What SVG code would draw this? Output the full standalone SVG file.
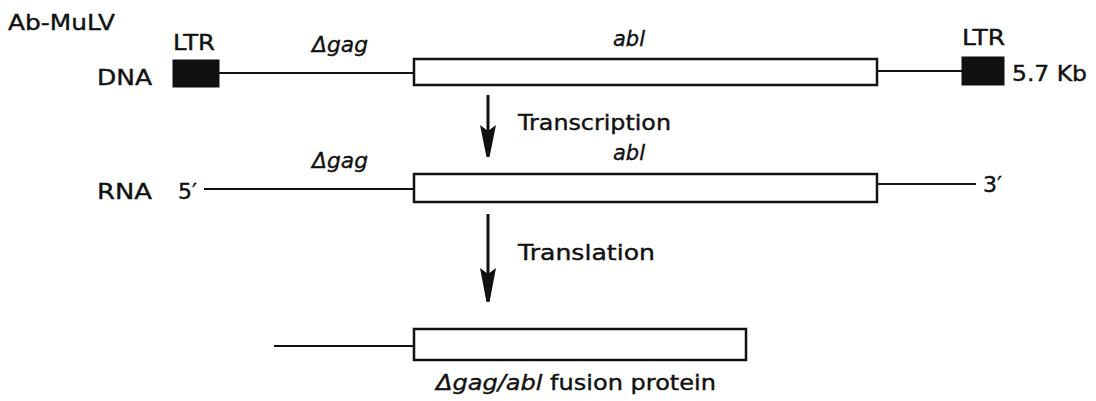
<svg xmlns="http://www.w3.org/2000/svg" width="1096" height="401" viewBox="0 0 1096 401">
<style>
text{font-family:"DejaVu Sans","Liberation Sans",Arial,sans-serif;fill:#111;font-size:22px;stroke:#111;stroke-width:0.4}
.it{font-style:italic}
.box{fill:#fff;stroke:#111;stroke-width:2.5}
.ltr{fill:#111;stroke:#111;stroke-width:1}
.ln{stroke:#111;stroke-width:2;fill:none}
.arr{stroke:#111;stroke-width:3;fill:none}
.head{fill:#111}
</style>
<rect width="1096" height="401" fill="#fff"/>
<text x="8" y="30" textLength="107" lengthAdjust="spacingAndGlyphs">Ab-MuLV</text>
<g id="dna">
<text x="97" y="85" textLength="55" lengthAdjust="spacingAndGlyphs">DNA</text>
<text x="173" y="50" textLength="42" lengthAdjust="spacingAndGlyphs">LTR</text>
<rect class="ltr" x="173" y="60" width="46" height="27"/>
<line class="ln" x1="219" y1="73" x2="413" y2="73"/>
<text class="it" x="312" y="52" textLength="56" lengthAdjust="spacingAndGlyphs">Δgag</text>
<rect class="box" x="414" y="59" width="463" height="26"/>
<text class="it" x="613" y="46" textLength="32" lengthAdjust="spacingAndGlyphs">abl</text>
<line class="ln" x1="877" y1="71" x2="962" y2="71"/>
<text x="962" y="45" textLength="43" lengthAdjust="spacingAndGlyphs">LTR</text>
<rect class="ltr" x="962" y="57" width="42" height="28"/>
<text x="1012" y="81" textLength="75" lengthAdjust="spacingAndGlyphs">5.7 Kb</text>
</g>
<g id="rna">
<text x="97" y="199" textLength="55" lengthAdjust="spacingAndGlyphs">RNA</text>
<text x="178" y="199">5′</text>
<line class="ln" x1="204" y1="189" x2="413" y2="189"/>
<text class="it" x="312" y="168" textLength="56" lengthAdjust="spacingAndGlyphs">Δgag</text>
<rect class="box" x="414" y="174" width="463" height="28"/>
<text class="it" x="613" y="160" textLength="32" lengthAdjust="spacingAndGlyphs">abl</text>
<line class="ln" x1="877" y1="184" x2="976" y2="184"/>
<text x="983" y="192">3′</text>
</g>
<g id="protein">
<line class="ln" x1="274" y1="346" x2="413" y2="346"/>
<rect class="box" x="414" y="329" width="332" height="31"/>
<text x="436" y="390" textLength="280" lengthAdjust="spacingAndGlyphs"><tspan class="it">Δgag/abl</tspan> fusion protein</text>
</g>
<g id="connectors">
<line class="arr" x1="488" y1="95" x2="488" y2="140"/>
<path class="head" d="M480,125 L488,131 L496,125 L489.5,157 L486.5,157 Z"/>
<line class="arr" x1="488" y1="214" x2="488" y2="285"/>
<path class="head" d="M480,268 L488,274 L496,268 L489.5,302 L486.5,302 Z"/>
<text x="518" y="130" textLength="153" lengthAdjust="spacingAndGlyphs">Transcription</text>
<text x="518" y="260" textLength="137" lengthAdjust="spacingAndGlyphs">Translation</text>
</g>
</svg>
